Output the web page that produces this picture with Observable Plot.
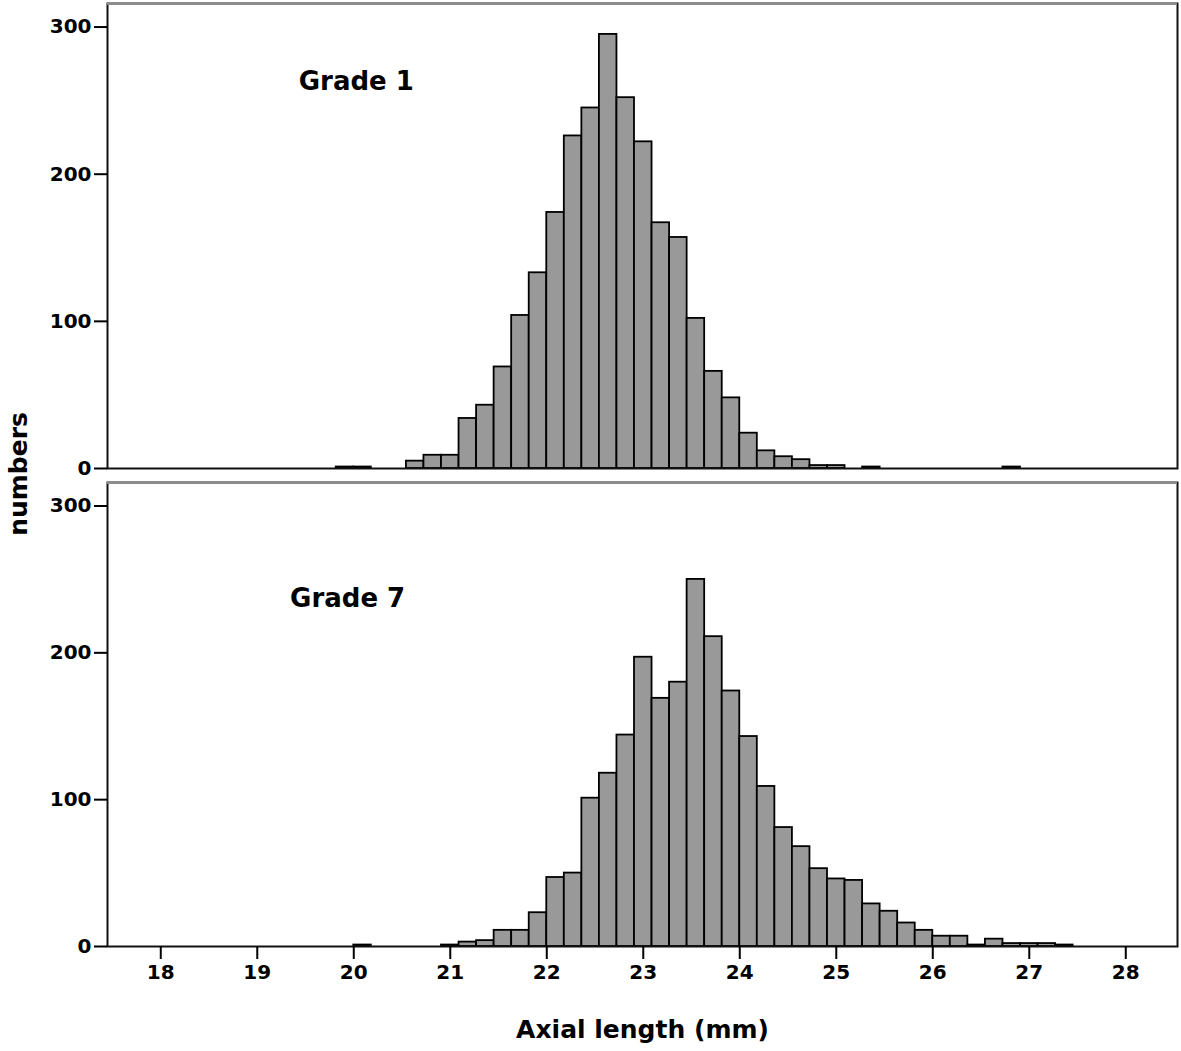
<!DOCTYPE html>
<html>
<head>
<meta charset="utf-8">
<script src="https://cdn.jsdelivr.net/npm/d3@7"></script>
<script src="https://cdn.jsdelivr.net/npm/@observablehq/plot@0.6"></script>
<style>
  body { margin: 0; background: #fff; }
  #wrap { position: relative; width: 1181px; height: 1051px; background: #fff; font-family: "DejaVu Sans", sans-serif; overflow: hidden; }
  #top { position: absolute; left: 0; top: 0; }
  #bottom { position: absolute; left: 0; top: 478px; }
  #ylabel { position: absolute; left: 18px; top: 474px; transform: translate(-50%, -50%) rotate(-90deg);
            font-weight: bold; font-size: 25px; white-space: nowrap; color: #000; }
</style>
</head>
<body>
<div id="wrap">
  <div id="top"></div>
  <div id="bottom"></div>
  <div id="ylabel">numbers</div>
</div>
<script>
// ---- data ----
const binOrigin = 22;        // a bin edge falls on 22 mm
const binWidth = 2 / 11;     // bin width in mm
const firstBin = -12;        // index of the first listed bin relative to binOrigin

// Grade 1 counts, bins k = -12 ... 26
const grade1Counts = [1, 1, 0, 0, 5, 9, 9, 34, 43, 69, 104, 133, 174, 226, 245, 295, 252, 222, 167, 157, 102, 66, 48, 24, 12, 8, 6, 2, 2, 0, 1, 0, 0, 0, 0, 0, 0, 0, 1];
// Grade 7 counts, bins k = -12 ... 29
const grade7Counts = [0, 1, 0, 0, 0, 0, 1, 3, 4, 11, 11, 23, 47, 50, 101, 118, 144, 197, 169, 180, 250, 211, 174, 143, 109, 81, 68, 53, 46, 45, 29, 24, 16, 11, 7, 7, 1, 5, 2, 2, 2, 1];

const xTicks = [18, 19, 20, 21, 22, 23, 24, 25, 26, 27, 28];
const yTicks = [0, 100, 200, 300];
const xDomain = [17.448, 28.536];
const yDomain = [0, 316];
const panelNames = ["Grade 1", "Grade 7"];
const panelLabelX = [19.43, 19.34];
const panelLabelY = [257, 231];
const xTitle = "Axial length (mm)";

function bins(counts) {
  return counts.map((c, i) => ({
    x1: binOrigin + (firstBin + i) * binWidth,
    x2: binOrigin + (firstBin + i + 1) * binWidth,
    count: c
  })).filter(d => d.count > 0);
}

const font = "font-family: 'DejaVu Sans', sans-serif; font-weight: bold; color: #000; background: #fff; overflow: visible;";

function panel(counts, idx, bottom) {
  const marks = [
    Plot.rect(bins(counts), {x1: "x1", x2: "x2", y1: 0, y2: "count", fill: "#999999", stroke: "#000", strokeWidth: 1.8}),
    Plot.frame({stroke: "#111", strokeWidth: 2}),
    Plot.ruleY([yDomain[1]], {stroke: "#8c8c8c", strokeWidth: 3}),
    Plot.axisY(yTicks, {tickSize: 13, tickPadding: 3, fontSize: 20, fontWeight: "bold", strokeWidth: 2, label: null}),
    Plot.text([{t: panelNames[idx], x: panelLabelX[idx], y: panelLabelY[idx]}],
      {x: "x", y: "y", text: "t", textAnchor: "start", lineAnchor: "bottom", fontSize: 26, fontWeight: "bold", fill: "#000"})
  ];
  if (bottom) {
    marks.push(Plot.axisX(xTicks, {tickSize: 13, tickPadding: 5, fontSize: 20, fontWeight: "bold", strokeWidth: 2, label: null}));
    marks.push(Plot.text([xTitle], {frameAnchor: "bottom", dy: 91, fontSize: 25, fontWeight: "bold", fill: "#000"}));
  }
  return Plot.plot({
    width: 1181,
    height: bottom ? 573 : 472,
    marginTop: bottom ? 4 : 3,
    marginBottom: bottom ? 105 : 4,
    marginLeft: 107,
    marginRight: 4,
    style: font,
    x: {domain: xDomain, axis: null},
    y: {domain: yDomain, axis: null},
    marks
  });
}

document.getElementById("top").appendChild(panel(grade1Counts, 0, false));
document.getElementById("bottom").appendChild(panel(grade7Counts, 1, true));
</script>
</body>
</html>
